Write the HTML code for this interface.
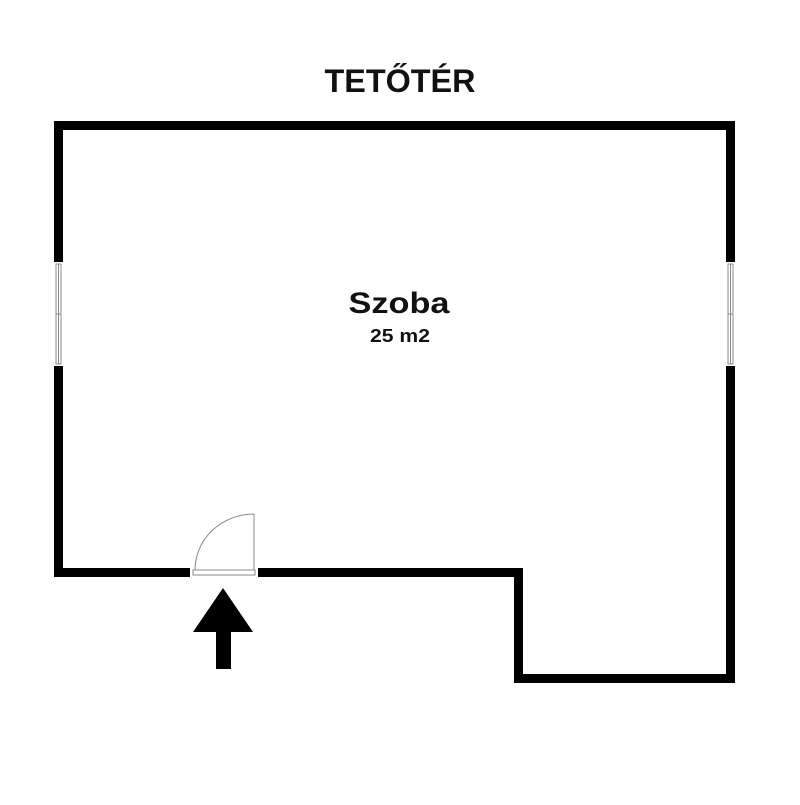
<!DOCTYPE html>
<html><head><meta charset="utf-8"><style>
body{margin:0;background:#fff;width:800px;height:800px;overflow:hidden}
text{font-family:"Liberation Sans","DejaVu Sans",sans-serif;font-weight:bold;fill:#111}
</style></head><body>
<svg width="800" height="800" viewBox="0 0 800 800">
<text x="400" y="92" font-size="32" text-anchor="middle" textLength="151" lengthAdjust="spacingAndGlyphs">TETŐTÉR</text>
<text x="399" y="313" font-size="30" text-anchor="middle" textLength="101" lengthAdjust="spacingAndGlyphs">Szoba</text>
<text x="400" y="342" font-size="18" text-anchor="middle" textLength="60" lengthAdjust="spacingAndGlyphs">25 m2</text>
<g fill="#000">
<rect x="54" y="121" width="681" height="9"/>
<rect x="54" y="121" width="9" height="141"/>
<rect x="54" y="366" width="9" height="211"/>
<rect x="726" y="121" width="9" height="141"/>
<rect x="726" y="366" width="9" height="317"/>
<rect x="54" y="568" width="136" height="9"/>
<rect x="258" y="568" width="265" height="9"/>
<rect x="514" y="568" width="9" height="115"/>
<rect x="514" y="674" width="221" height="9"/>
</g>
<g fill="none" stroke="#888" stroke-width="1">
<rect x="56" y="264" width="5" height="100"/>
<line x1="58.5" y1="264" x2="58.5" y2="364"/>
<line x1="56" y1="314" x2="61" y2="314"/>
<rect x="728" y="264" width="5" height="100"/>
<line x1="730.5" y1="264" x2="730.5" y2="364"/>
<line x1="728" y1="314" x2="733" y2="314"/>
<rect x="193" y="570" width="62" height="5"/>
<line x1="254" y1="514" x2="254" y2="570"/>
<path d="M195 570 A59 56 0 0 1 254 514"/>
</g>
<polygon points="223,588 193,632 253,632" fill="#000"/>
<rect x="216" y="631" width="15" height="38" fill="#000"/>
</svg>
</body></html>
